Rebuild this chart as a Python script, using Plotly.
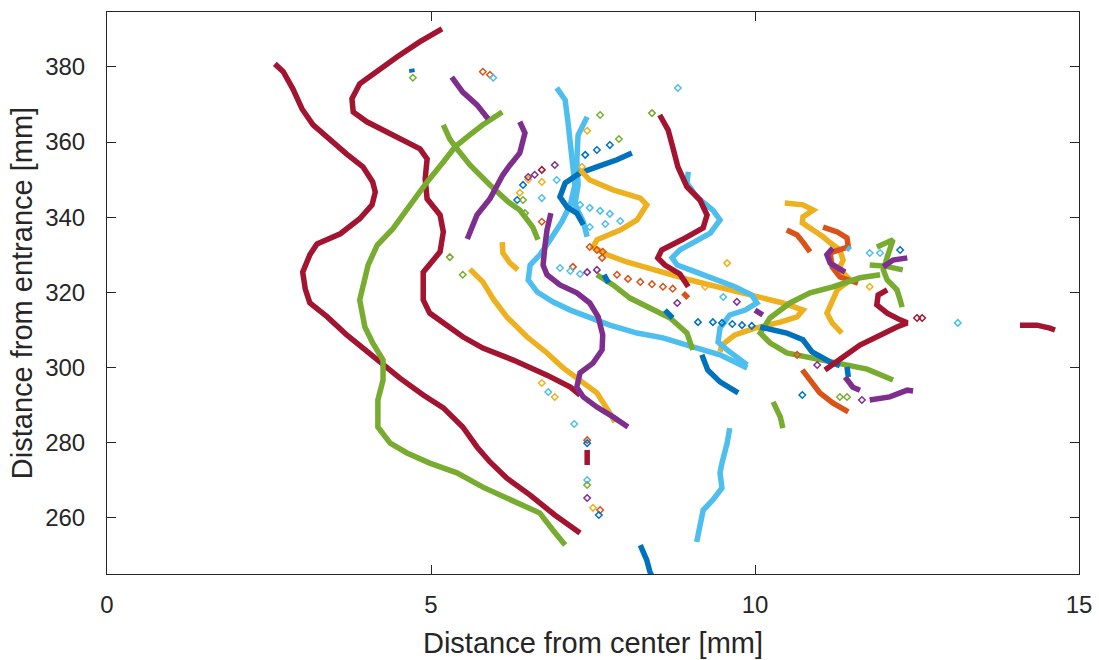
import plotly.graph_objects as go

# MATLAB-style line colours
BLUE = "#0072BD"
ORANGE = "#D95319"
YELLOW = "#EDB120"
PURPLE = "#7E2F8E"
GREEN = "#77AC30"
LIGHTBLUE = "#4DBEEE"
DARKRED = "#A2142F"

# ---- tracked paths: x = distance from center [mm], y = distance from entrance [mm]
red_a_x = [2.59, 2.72, 2.87, 2.95, 3.01, 3.18, 3.44, 3.70, 3.95, 4.10, 4.14, 4.09, 3.90, 3.60, 3.24, 3.13, 3.02, 3.06,
           3.13, 3.40, 3.70, 4.01, 4.26, 4.52, 4.88, 5.19, 5.49, 5.71, 5.91, 6.17, 6.53, 6.91, 7.30]
red_a_y = [380.8, 378.7, 374.1, 371.5, 368.8, 364.6, 360.6, 356.8, 353.4, 349.4, 346.7, 343.3, 339.6, 335.6, 332.9, 330.0,
           325.4, 320.9, 317.2, 313.5, 308.7, 304.2, 300.7, 297.2, 292.7, 289.3, 284.2, 278.9, 274.9, 270.6, 266.1, 260.8, 256.0]

red_b_x = [5.17, 4.83, 4.48, 4.17, 3.90, 3.78, 3.80, 4.01, 4.32, 4.63, 4.83, 4.94, 4.91, 4.94, 5.14, 5.19, 5.14, 4.88,
           4.88, 4.88, 4.98, 5.19, 5.49, 5.80, 6.27, 6.79, 7.15, 7.30]
red_b_y = [390.1, 386.7, 382.7, 378.7, 375.5, 371.5, 368.0, 365.4, 362.7, 360.0, 358.2, 355.5, 350.2, 344.9, 340.6, 336.1,
           330.8, 325.4, 320.1, 318.0, 314.5, 311.9, 308.2, 305.2, 302.0, 298.0, 294.8, 292.7]

red_c_x = [8.53, 8.66, 8.73, 8.81, 8.95, 9.15, 9.26, 9.20, 8.87, 8.56, 8.50, 8.61, 8.84, 8.97]
red_c_y = [367.2, 363.2, 358.7, 353.4, 348.1, 344.6, 340.6, 337.2, 334.0, 331.3, 329.2, 327.3, 324.9, 321.5]

red_d_x = [12.04, 11.90, 11.88, 12.04, 12.24, 12.35, 12.19, 11.93, 11.62, 11.36, 11.08]
red_d_y = [320.7, 319.3, 316.7, 314.5, 312.7, 311.9, 310.8, 308.7, 306.0, 302.8, 299.4]

red_e_x = [14.09, 14.35, 14.55, 14.63]
red_e_y = [311.3, 311.3, 310.5, 310.0]

red_f_x = [7.41, 7.41]
red_f_y = [278.1, 274.1]

green_a_x = [6.10, 5.80, 5.56, 5.37, 5.19, 4.94, 4.68, 4.41, 4.17, 4.03, 3.94, 3.90, 3.98, 4.10, 4.26, 4.26, 4.18,
             4.18, 4.37, 4.63, 4.98, 5.40, 5.80, 6.19, 6.68, 6.88, 7.07]
green_a_y = [368.0, 364.6, 361.4, 358.7, 354.7, 349.4, 343.3, 336.9, 332.6, 327.3, 320.9, 318.0, 310.8, 306.6, 302.0,
             296.7, 291.4, 284.2, 279.9, 277.3, 274.6, 272.0, 268.2, 265.3, 261.3, 256.8, 252.8]

green_b_x = [5.19, 5.29, 5.40, 5.60, 5.91, 6.19, 6.37, 6.57, 6.65]
green_b_y = [364.6, 360.8, 358.2, 353.9, 348.6, 344.1, 341.9, 337.4, 334.0]

green_c_x = [7.56, 7.81, 8.07, 8.38, 8.69, 8.95, 9.04]
green_c_y = [324.7, 322.0, 318.5, 315.9, 313.2, 309.2, 304.7]

green_d_x = [11.93, 11.62, 11.20, 10.85, 10.54, 10.23, 10.08, 10.23, 10.49, 10.90, 11.31, 11.73, 12.13]
green_d_y = [324.7, 323.9, 321.5, 319.9, 317.2, 313.2, 309.2, 306.6, 303.9, 302.6, 301.2, 299.6, 296.7]

green_e_x = [11.88, 12.13, 12.04, 11.98, 12.04, 12.19, 12.24, 12.27]
green_e_y = [332.1, 334.0, 329.4, 326.0, 323.3, 320.7, 318.0, 316.1]

green_f_x = [11.77, 12.01, 12.28]
green_f_y = [327.3, 327.0, 326.0]

green_g_x = [10.28, 10.39, 10.43]
green_g_y = [290.9, 286.9, 283.9]

purple_a_x = [5.32, 5.49, 5.71, 5.88]
purple_a_y = [377.3, 373.3, 369.9, 366.2]

purple_b_x = [5.56, 5.71, 5.91, 6.11, 6.22, 6.37, 6.45, 6.37]
purple_b_y = [334.2, 340.6, 344.9, 351.3, 353.9, 357.1, 362.4, 365.4]

purple_c_x = [6.85, 6.79, 6.76, 6.73, 6.79, 6.99, 7.25, 7.45, 7.58, 7.65, 7.64, 7.50, 7.30, 7.25, 7.35, 7.56, 7.81, 8.04]
purple_c_y = [341.1, 336.6, 332.6, 327.3, 324.7, 322.0, 319.9, 317.2, 313.5, 308.7, 304.7, 301.2, 298.6, 294.8, 292.2,
              289.5, 286.9, 284.2]

purple_d_x = [11.20, 11.11, 11.16, 11.31, 11.39]
purple_d_y = [331.8, 330.0, 327.8, 326.5, 325.4]

purple_e_x = [11.77, 12.08, 12.35, 12.44]
purple_e_y = [291.4, 292.2, 294.0, 293.8]

purple_f_x = [11.39, 11.51, 11.62]
purple_f_y = [297.5, 294.8, 294.0]

purple_g_x = [11.98, 12.13, 12.35]
purple_g_y = [326.8, 328.6, 329.2]

purple_h_x = [10.00, 10.12]
purple_h_y = [315.3, 314.0]

yellow_a_x = [5.60, 5.80, 5.96, 6.17, 6.48, 6.79, 7.04, 7.30, 7.56, 7.76, 7.84]
yellow_a_y = [326.2, 322.8, 318.3, 313.5, 308.2, 303.9, 299.9, 296.7, 293.3, 287.9, 285.5]

yellow_b_x = [6.10, 6.11, 6.22, 6.34]
yellow_b_y = [333.4, 330.5, 327.8, 326.0]

yellow_c_x = [7.30, 7.45, 7.81, 8.23, 8.33, 8.18, 7.92, 7.56, 7.50, 7.72, 8.02, 8.33, 8.53, 9.00, 9.61, 10.03, 10.43,
              10.74, 10.65, 10.39, 10.00, 9.69, 9.49, 9.46]
yellow_c_y = [352.6, 349.9, 347.3, 345.1, 343.3, 339.3, 336.6, 334.0, 332.1, 330.0, 328.1, 326.5, 325.4, 323.3, 320.7,
              318.8, 317.2, 315.3, 313.5, 312.1, 310.5, 308.7, 306.0, 304.2]

yellow_d_x = [10.46, 10.74, 10.90, 10.74, 10.73, 10.90, 11.05, 11.16, 11.31, 11.36, 11.31, 11.36, 11.47, 11.27, 11.20,
              11.11, 11.19, 11.34]
yellow_d_y = [343.8, 343.3, 341.9, 340.1, 338.5, 336.6, 334.8, 333.2, 331.3, 328.6, 326.8, 325.2, 323.3, 320.7, 318.0,
              314.5, 311.9, 309.2]

lblue_a_x = [6.94, 7.07, 7.11, 7.15, 7.19, 7.22, 7.15, 7.02, 6.84, 6.68, 6.53, 6.50, 6.64, 6.88, 7.15, 7.45, 7.76, 8.18,
             8.58, 9.04, 9.46, 9.88]
lblue_a_y = [374.4, 371.2, 365.9, 360.6, 353.9, 348.6, 343.3, 338.8, 334.0, 330.0, 327.3, 323.3, 320.1, 317.5, 315.3,
             313.2, 311.3, 309.2, 307.9, 305.5, 303.4, 299.9]

lblue_b_x = [7.41, 7.27, 7.25, 7.27, 7.22, 7.35, 7.41]
lblue_b_y = [366.7, 361.9, 355.3, 348.6, 343.3, 338.8, 334.8]

lblue_c_x = [8.97, 8.95, 9.10, 9.35, 9.46, 9.31, 9.04, 8.84, 8.72, 8.80, 9.00, 9.31, 9.69, 9.95, 10.03, 9.85, 9.61,
             9.46, 9.43, 9.57, 9.88]
lblue_c_y = [352.1, 349.1, 345.4, 341.9, 339.3, 335.8, 333.2, 331.3, 329.2, 327.3, 326.0, 324.1, 321.5, 319.3, 317.2,
             315.3, 314.0, 310.5, 306.8, 304.7, 300.7]

lblue_d_x = [9.61, 9.57, 9.49, 9.46, 9.49, 9.35, 9.20, 9.15, 9.10]
lblue_d_y = [283.9, 279.9, 274.6, 272.0, 268.0, 264.8, 262.1, 257.6, 253.6]

lblue_e_x = [11.42, 11.47]
lblue_e_y = [332.0, 331.3]

blue_a_x = [8.23, 8.26, 8.33, 8.38, 8.41]
blue_a_y = [252.8, 251.5, 248.8, 245.6, 244.5]

blue_b_x = [8.10, 7.87, 7.56, 7.30, 7.07, 6.99, 7.10, 7.25, 7.35]
blue_b_y = [357.1, 355.3, 353.4, 351.8, 349.1, 345.4, 342.7, 341.1, 338.0]

blue_c_x = [9.18, 9.27, 9.46, 9.58, 9.74]
blue_c_y = [303.4, 299.4, 296.2, 294.8, 293.3]

blue_d_x = [10.08, 10.31, 10.49, 10.74, 10.88, 11.16, 11.31]
blue_d_y = [310.8, 310.0, 309.2, 307.4, 304.2, 301.5, 300.5]

blue_e_x = [8.61, 8.69, 8.73]
blue_e_y = [315.3, 314.0, 313.2]

blue_f_x = [11.42, 11.44]
blue_f_y = [300.2, 297.5]

blue_g_x = [7.67, 7.74]
blue_g_y = [324.7, 322.5]

blue_h_x = [4.70, 4.71]
blue_h_y = [379.5, 378.5]

orange_a_x = [10.73, 10.85, 11.00, 11.20, 11.44]
orange_a_y = [299.4, 296.7, 293.3, 290.6, 288.2]

orange_b_x = [10.49, 10.65, 10.74, 10.85]
orange_b_y = [336.6, 335.3, 333.4, 330.8]

orange_c_x = [11.05, 11.27, 11.42, 11.44, 11.16, 11.19, 11.31, 11.51, 11.59]
orange_c_y = [337.4, 336.1, 334.5, 332.1, 330.5, 326.8, 324.1, 322.8, 322.5]

orange_d_x = [8.89, 8.97]
orange_d_y = [319.9, 318.5]

# ---- sparse detections (isolated samples)
orange_pts_x = [7.87, 8.04, 8.23, 8.41, 8.58, 8.73, 5.80, 5.91, 6.71, 7.19, 7.45, 7.56, 7.65, 7.64, 7.41, 7.61, 10.65]
orange_pts_y = [324.7, 323.6, 322.8, 322.2, 321.5, 321.0, 378.7, 377.9, 338.8, 326.8, 332.1, 331.3, 330.8, 329.2, 280.7,
                262.1, 303.4]

blue_pts_x = [7.38, 7.56, 7.76, 6.42, 6.33, 9.12, 9.35, 9.49, 9.65, 9.80, 9.95, 12.24, 7.41, 7.59, 10.73]
blue_pts_y = [356.6, 357.9, 359.2, 348.6, 344.6, 312.1, 312.1, 311.9, 311.6, 311.3, 311.1, 331.3, 279.9, 260.8, 292.7]

lblue_pts_x = [8.81, 5.96, 6.81, 7.21, 7.41, 9.51, 6.94, 6.71, 11.77, 11.93, 13.13, 7.30, 7.45, 7.61, 7.76, 7.45, 7.69,
               7.92, 6.99, 7.15, 7.30]
lblue_pts_y = [374.4, 377.1, 293.5, 285.0, 270.1, 318.8, 349.9, 345.1, 330.5, 330.5, 311.9, 343.3, 342.5, 341.7, 340.9,
               337.4, 338.2, 339.0, 326.5, 325.7, 324.9]

yellow_pts_x = [7.41, 7.33, 6.71, 6.50, 6.37, 6.71, 6.91, 7.50, 9.23, 9.57, 11.77]
yellow_pts_y = [363.0, 353.4, 349.4, 350.0, 346.5, 295.9, 292.2, 262.7, 321.5, 327.8, 321.5]

purple_pts_x = [6.50, 6.60, 6.91, 7.41, 7.56, 8.80, 9.72, 7.41, 10.96, 11.65]
purple_pts_y = [350.7, 351.3, 353.9, 325.4, 326.0, 317.2, 317.5, 265.3, 300.7, 291.4]

green_pts_x = [4.72, 5.29, 5.49, 7.61, 7.90, 8.41, 6.42, 6.45, 7.41, 11.31, 11.42]
green_pts_y = [377.1, 329.4, 324.7, 367.2, 360.8, 367.7, 344.6, 341.1, 268.8, 292.2, 292.2]

red_pts_x = [6.71, 12.50, 12.58]
red_pts_y = [352.6, 313.2, 313.2]

x_ticks = [0, 5, 10, 15]
y_ticks = [260, 280, 300, 320, 340, 360, 380]

tracks = [
    (red_a_x, red_a_y, DARKRED), (red_b_x, red_b_y, DARKRED),
    (green_a_x, green_a_y, GREEN), (green_b_x, green_b_y, GREEN),
    (purple_a_x, purple_a_y, PURPLE), (purple_b_x, purple_b_y, PURPLE),
    (yellow_a_x, yellow_a_y, YELLOW), (yellow_b_x, yellow_b_y, YELLOW),
    (lblue_a_x, lblue_a_y, LIGHTBLUE), (lblue_b_x, lblue_b_y, LIGHTBLUE),
    (blue_b_x, blue_b_y, BLUE), (yellow_c_x, yellow_c_y, YELLOW),
    (purple_c_x, purple_c_y, PURPLE),
    (lblue_c_x, lblue_c_y, LIGHTBLUE), (red_c_x, red_c_y, DARKRED),
    (green_c_x, green_c_y, GREEN), (orange_d_x, orange_d_y, ORANGE),
    (blue_e_x, blue_e_y, BLUE), (blue_g_x, blue_g_y, BLUE),
    (blue_c_x, blue_c_y, BLUE), (lblue_d_x, lblue_d_y, LIGHTBLUE),
    (blue_a_x, blue_a_y, BLUE), (red_f_x, red_f_y, DARKRED),
    (yellow_d_x, yellow_d_y, YELLOW), (orange_b_x, orange_b_y, ORANGE),
    (orange_c_x, orange_c_y, ORANGE), (purple_d_x, purple_d_y, PURPLE),
    (green_d_x, green_d_y, GREEN), (blue_d_x, blue_d_y, BLUE),
    (green_e_x, green_e_y, GREEN), (green_f_x, green_f_y, GREEN),
    (purple_g_x, purple_g_y, PURPLE), (red_d_x, red_d_y, DARKRED),
    (orange_a_x, orange_a_y, ORANGE), (purple_e_x, purple_e_y, PURPLE),
    (purple_f_x, purple_f_y, PURPLE), (blue_f_x, blue_f_y, BLUE),
    (green_g_x, green_g_y, GREEN), (purple_h_x, purple_h_y, PURPLE),
    (lblue_e_x, lblue_e_y, LIGHTBLUE), (red_e_x, red_e_y, DARKRED),
    (blue_h_x, blue_h_y, BLUE),
]

samples = [
    (orange_pts_x, orange_pts_y, ORANGE), (blue_pts_x, blue_pts_y, BLUE),
    (lblue_pts_x, lblue_pts_y, LIGHTBLUE), (yellow_pts_x, yellow_pts_y, YELLOW),
    (purple_pts_x, purple_pts_y, PURPLE), (green_pts_x, green_pts_y, GREEN),
    (red_pts_x, red_pts_y, DARKRED),
]

fig = go.Figure()
# dense tracks: drawn as thick paths through the detected positions
for xs, ys, col in tracks:
    fig.add_trace(go.Scatter(
        x=xs, y=ys, mode="lines",
        line=dict(color=col, width=5.5),
        hoverinfo="skip", showlegend=False,
    ))
# isolated detections: small open diamonds
for xs, ys, col in samples:
    fig.add_trace(go.Scatter(
        x=xs, y=ys, mode="markers",
        marker=dict(symbol="diamond-open", size=5, color=col, line=dict(width=1.5)),
        hoverinfo="skip", showlegend=False,
    ))

AX = "#262626"
FONT = "Liberation Sans, Arial, sans-serif"
axis_common = dict(
    showline=True, linecolor=AX, linewidth=1, mirror="ticks",
    ticks="inside", ticklen=9, tickcolor=AX, tickwidth=1,
    showgrid=False, zeroline=False, automargin=False,
    tickfont=dict(family=FONT, size=24, color=AX),
)

fig.update_layout(
    width=1099, height=660,
    margin=dict(l=107, r=20, t=12, b=86),
    paper_bgcolor="white", plot_bgcolor="white",
    xaxis=dict(
        range=[0, 15], tickvals=x_ticks, ticktext=[str(v) for v in x_ticks],
        title=dict(text="Distance from center [mm]", standoff=15,
                   font=dict(family=FONT, size=29, color=AX)),
        ticklabelstandoff=9,
        **axis_common,
    ),
    yaxis=dict(
        range=[245.1, 394.6], tickvals=y_ticks, ticktext=[str(v) for v in y_ticks],
        title=dict(text="Distance from entrance [mm]", standoff=4,
                   font=dict(family=FONT, size=29, color=AX)),
        ticklabelstandoff=16,
        **axis_common,
    ),
)

fig.write_html("out.html")
